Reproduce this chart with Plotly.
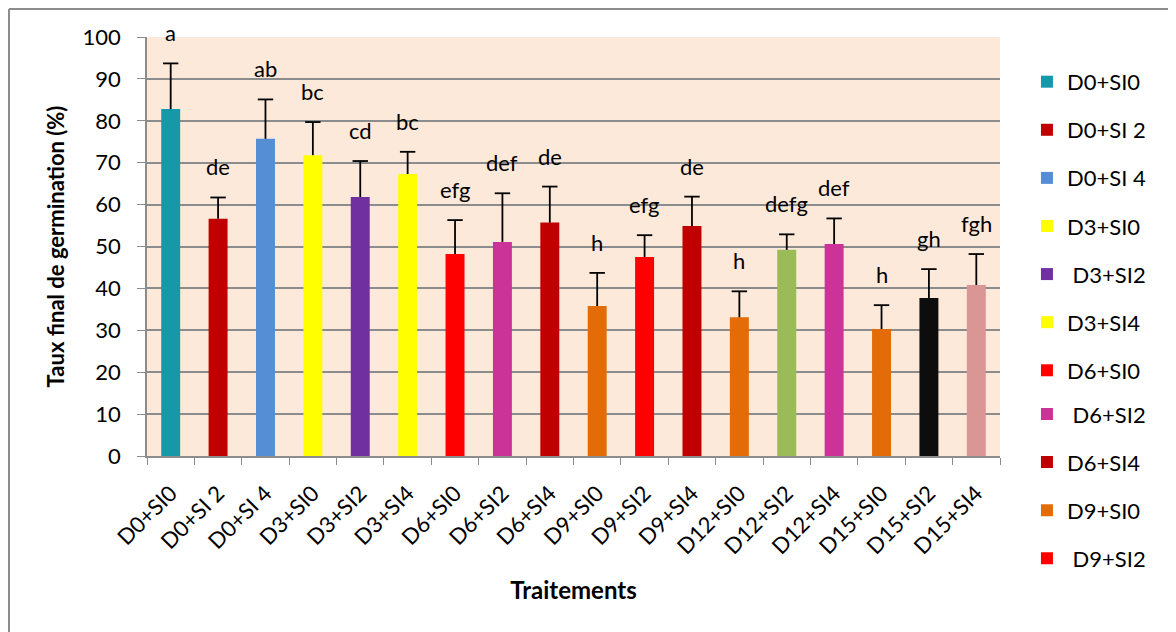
import plotly.graph_objects as go

# données
traitements = ["D0+SI0", "D0+SI 2", "D0+SI 4", "D3+SI0", "D3+SI2", "D3+SI4",
               "D6+SI0", "D6+SI2", "D6+SI4", "D9+SI0", "D9+SI2", "D9+SI4",
               "D12+SI0", "D12+SI2", "D12+SI4", "D15+SI0", "D15+SI2", "D15+SI4"]
noms_legende = ["D0+SI0", "D0+SI 2", "D0+SI 4", "D3+SI0", " D3+SI2", "D3+SI4",
                "D6+SI0", " D6+SI2", "D6+SI4", "D9+SI0", " D9+SI2"]
taux = [82.8, 56.6, 75.7, 71.8, 61.8, 67.3, 48.2, 51.1, 55.7, 35.8, 47.5, 54.9,
        33.1, 49.2, 50.6, 30.3, 37.7, 40.8]
ecart = [10.9, 5.1, 9.4, 7.9, 8.6, 5.3, 8.1, 11.6, 8.6, 7.9, 5.2, 7.0,
         6.2, 3.7, 6.1, 5.7, 6.9, 7.4]
lettres = ["a", "de", "ab", "bc", "cd", "bc", "efg", "def", "de", "h", "efg", "de",
           "h", "defg", "def", "h", "gh", "fgh"]
couleurs = ["#1798A8", "#C00000", "#558ED5", "#FFFF00", "#7030A0", "#FFFF00",
            "#FF0000", "#CC3399", "#C00000", "#E36C09", "#FF0000", "#C00000",
            "#E36C09", "#9BBB59", "#CC3399", "#E36C09", "#0D0D0D", "#D99694"]

police = "Lato, Open Sans, sans-serif"

fig = go.Figure()

for i, t in enumerate(traitements):
    fig.add_trace(go.Bar(
        x=[t], y=[taux[i]], marker_color=couleurs[i], marker_line_width=0,
        name=noms_legende[i] if i < len(noms_legende) else t,
        showlegend=i < len(noms_legende), legendgroup=str(i),
        legend="legend" if i < 7 else "legend2",
        error_y=dict(type="data", symmetric=False, array=[ecart[i]], arrayminus=[0],
                     color="black", thickness=1.8, width=0),
    ))

# chapeaux des barres d'erreur
hauts = [m + s for m, s in zip(taux, ecart)]
fig.add_trace(go.Scatter(
    x=traitements, y=hauts, mode="markers", showlegend=False, hoverinfo="skip",
    marker=dict(symbol="line-ew", size=11, line=dict(color="black", width=1.8)),
))

for t, h, l in zip(traitements, hauts, lettres):
    fig.add_annotation(x=t, y=h, text=l, showarrow=False, yanchor="bottom", yshift=15,
                       font=dict(family=police, size=22, color="black"))

# cadre du graphique (coupé à droite et en bas)
fig.add_shape(type="line", xref="paper", yref="paper", x0=-0.1618, x1=1.25, y0=1.0668, y1=1.0668,
              line=dict(color="#8C8C8C", width=2))
fig.add_shape(type="line", xref="paper", yref="paper", x0=-0.1618, x1=-0.1618, y0=1.0668, y1=-0.45,
              line=dict(color="#8C8C8C", width=2))

leg = dict(xanchor="left", yanchor="top", tracegroupgap=16.5, font=dict(size=22),
           itemwidth=30, traceorder="grouped", x=1.0316)

fig.update_layout(
    width=1176, height=632,
    margin=dict(l=139, r=184, t=29, b=184, autoexpand=False),
    paper_bgcolor="white", plot_bgcolor="#FDE9D9",
    barmode="overlay", bargap=0.6,
    font=dict(family=police, color="black"),
    legend=dict(leg, y=0.943),
    legend2=dict(leg, y=0.150),
)
fig.update_xaxes(
    type="category", range=[-0.5, len(traitements) - 0.5],
    tickangle=-45, tickfont=dict(size=22), automargin=False,
    showline=True, linecolor="#8C8C8C", linewidth=1.5,
    ticks="outside", tickson="boundaries", ticklen=7, tickcolor="#8C8C8C",
    ticklabelstandoff=14, showgrid=False,
    title=dict(text="<b>Traitements</b>", font=dict(size=24), standoff=24),
)
fig.update_yaxes(
    range=[0, 100], dtick=10, tickfont=dict(size=22), automargin=False,
    showline=True, linecolor="#8C8C8C", linewidth=1.5, mirror=False,
    ticks="outside", ticklen=8, tickcolor="#8C8C8C", ticklabelstandoff=12,
    showgrid=True, gridcolor="#8C8C8C", gridwidth=1.5, zeroline=False,
    title=dict(text="<b>Taux final de germination (%)</b>", font=dict(size=22), standoff=12),
)

fig.write_html("out.html")
